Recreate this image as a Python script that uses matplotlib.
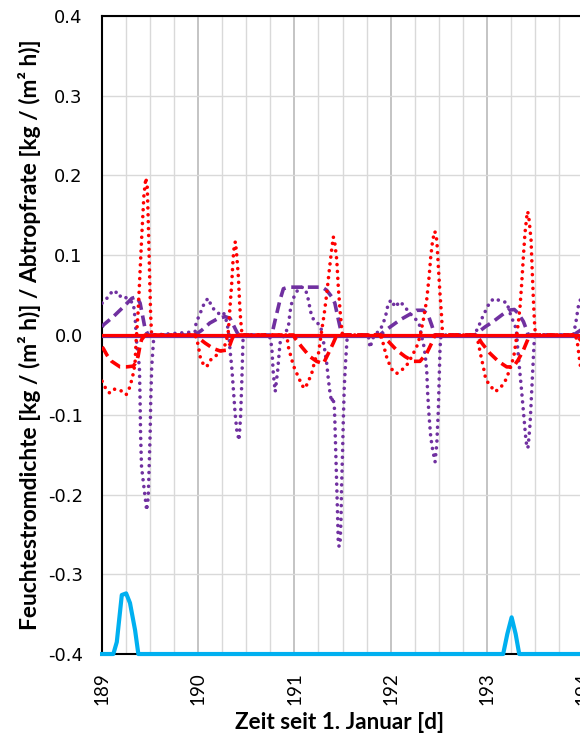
## Feuchtestromdichte / Abtropfrate, Tage 189-194
import matplotlib
matplotlib.use('Agg')
import matplotlib.pyplot as plt
from matplotlib.ticker import MultipleLocator, FormatStrFormatter

plt.rcParams['font.family'] = ['Lato', 'DejaVu Sans']
plt.rcParams['axes.unicode_minus'] = False

## Data
# red dotted
rd_t = [189.0, 189.013, 189.05, 189.083, 189.13, 189.187, 189.25, 189.29, 189.325, 189.343, 189.353,
        189.375, 189.395, 189.415, 189.435, 189.455, 189.47, 189.483, 189.495, 189.505, 189.515,
        189.967, 189.985, 190.0, 190.019, 190.05, 190.088, 190.12, 190.175, 190.244, 190.28, 190.296,
        190.313, 190.33, 190.348, 190.362, 190.375, 190.386, 190.40, 190.417, 190.43, 190.44, 190.455,
        190.92, 190.937, 190.972, 191.006, 191.04, 191.076, 191.11, 191.145, 191.18, 191.214, 191.25,
        191.284, 191.31, 191.336, 191.363, 191.387, 191.404, 191.42, 191.44, 191.456, 191.474, 191.49, 191.5,
        191.89, 191.917, 191.94, 191.966, 191.994, 192.03, 192.07, 192.115, 192.167, 192.22, 192.27,
        192.305, 192.34, 192.375, 192.40, 192.417, 192.437, 192.46, 192.48, 192.496, 192.513, 192.53, 192.54,
        192.895, 192.92, 192.94, 192.964, 192.99, 193.033, 193.085, 193.137, 193.19, 193.224, 193.26,
        193.286, 193.31, 193.327, 193.345, 193.363, 193.38, 193.397, 193.415, 193.425, 193.44, 193.46,
        193.473, 193.483, 193.494, 193.505,
        193.92, 193.94, 193.96, 193.98, 194.0]
rd_v = [-0.058, -0.061, -0.070, -0.073, -0.068, -0.069, -0.075, -0.065, -0.048, -0.035, -0.010,
        0.030, 0.080, 0.130, 0.175, 0.197, 0.185, 0.130, 0.070, 0.025, 0.0,
        0.0, -0.006, -0.013, -0.027, -0.036, -0.040, -0.032, -0.027, -0.019, -0.012, -0.005,
        0.005, 0.035, 0.065, 0.095, 0.113, 0.117, 0.100, 0.073, 0.040, 0.020, 0.0,
        0.0, -0.015, -0.031, -0.044, -0.052, -0.063, -0.067, -0.058, -0.048, -0.031, -0.023,
        0.006, 0.027, 0.052, 0.082, 0.107, 0.123, 0.115, 0.094, 0.060, 0.031, 0.010, 0.0,
        0.0, -0.008, -0.019, -0.031, -0.038, -0.047, -0.048, -0.044, -0.038, -0.027, -0.015,
        -0.002, 0.019, 0.044, 0.073, 0.098, 0.119, 0.130, 0.119, 0.086, 0.052, 0.023, 0.0,
        0.0, -0.015, -0.027, -0.040, -0.056, -0.063, -0.071, -0.067, -0.058, -0.048, -0.036,
        -0.023, -0.002, 0.015, 0.035, 0.065, 0.098, 0.128, 0.148, 0.155, 0.144, 0.119,
        0.077, 0.048, 0.019, 0.0,
        0.0, -0.008, -0.027, -0.045, -0.055]

# red dashed
rdd_t = [189.0, 189.013, 189.05, 189.10, 189.187, 189.25, 189.325, 189.36, 189.377, 189.395, 189.41, 189.447,
         189.967, 189.985, 190.07, 190.157, 190.227, 190.296, 190.33, 190.348, 190.37,
         190.99, 191.006, 191.076, 191.16, 191.23, 191.30, 191.353, 191.404, 191.44,
         191.90, 191.976, 192.063, 192.15, 192.236, 192.305, 192.375, 192.427, 192.46,
         192.895, 192.947, 193.033, 193.12, 193.207, 193.276, 193.327, 193.38, 193.425, 193.44,
         193.93, 194.0]
rdd_v = [-0.015, -0.017, -0.025, -0.033, -0.040, -0.040, -0.039, -0.033, -0.025, -0.013, -0.006, 0.0,
         0.0, -0.002, -0.010, -0.017, -0.020, -0.019, -0.012, -0.006, 0.0,
         0.0, -0.004, -0.015, -0.027, -0.033, -0.036, -0.023, -0.010, 0.0,
         0.0, -0.008, -0.019, -0.027, -0.033, -0.033, -0.023, -0.010, 0.0,
         0.0, -0.010, -0.023, -0.033, -0.040, -0.040, -0.031, -0.019, -0.006, 0.0,
         0.0, -0.010]

# purple dotted
pd_t = [189.0, 189.013, 189.05, 189.083, 189.135, 189.17, 189.22, 189.273, 189.325, 189.345,
        189.36, 189.388, 189.395, 189.40, 189.41, 189.43, 189.447, 189.464, 189.48, 189.49, 189.5,
        189.506, 189.516, 189.533, 189.54,
        189.967, 189.977, 190.019, 190.07, 190.105, 190.14, 190.21, 190.26, 190.30, 190.32, 190.33,
        190.348, 190.365, 190.383, 190.40, 190.424, 190.44, 190.452, 190.462, 190.467,
        190.74, 190.764, 190.78, 190.80, 190.826, 190.85, 190.885, 190.937, 190.954, 190.978, 191.006,
        191.04, 191.076, 191.11, 191.128, 191.145, 191.162, 191.18, 191.214, 191.266, 191.29, 191.31,
        191.336, 191.353, 191.37, 191.387, 191.40, 191.415, 191.42, 191.43, 191.44, 191.45, 191.456,
        191.465, 191.474, 191.484, 191.49, 191.50, 191.508, 191.518, 191.533, 191.545, 191.55,
        191.77, 191.786, 191.81, 191.83,
        191.89, 191.924, 191.95, 191.976, 192.01, 192.045, 192.098, 192.15, 192.20, 192.254, 192.30,
        192.322, 192.34, 192.357, 192.375, 192.385, 192.40, 192.417, 192.437, 192.462, 192.48, 192.496,
        192.506, 192.513, 192.52, 192.53,
        192.88, 192.895, 192.93, 192.964, 192.999, 193.033, 193.085, 193.148, 193.207, 193.235, 193.26,
        193.293, 193.31, 193.32, 193.335, 193.355, 193.373, 193.39, 193.404, 193.418, 193.43, 193.45,
        193.467, 193.483, 193.494, 193.50,
        193.90, 193.925, 193.95, 193.975, 194.0]
pd_v = [0.040, 0.042, 0.046, 0.052, 0.056, 0.048, 0.050, 0.044, 0.040, 0.019,
        -0.010, -0.040, -0.081, -0.123, -0.165, -0.186, -0.203, -0.220, -0.203, -0.165, -0.123,
        -0.081, -0.040, -0.010, 0.0,
        0.004, 0.015, 0.027, 0.042, 0.046, 0.035, 0.027, 0.029, 0.015, -0.002, -0.019,
        -0.040, -0.069, -0.098, -0.119, -0.132, -0.102, -0.061, -0.019, 0.0,
        0.0, -0.015, -0.048, -0.071, -0.044, -0.010, -0.002, 0.010, 0.029, 0.044, 0.050,
        0.058, 0.060, 0.058, 0.052, 0.044, 0.033, 0.023, 0.017, 0.0125, 0.002, -0.015,
        -0.036, -0.056, -0.073, -0.084, -0.078, -0.090, -0.107, -0.148, -0.190, -0.232, -0.263,
        -0.265, -0.263, -0.232, -0.190, -0.148, -0.107, -0.065, -0.031, -0.010, 0.0,
        -0.002, -0.016, -0.006, 0.0,
        0.006, 0.015, 0.025, 0.040, 0.044, 0.035, 0.042, 0.035, 0.027, 0.021, 0.0125,
        -0.002, -0.010, -0.023, -0.044, -0.073, -0.102, -0.128, -0.144, -0.159, -0.136, -0.094,
        -0.052, -0.019, -0.004, 0.0,
        0.0, 0.006, 0.015, 0.025, 0.033, 0.042, 0.046, 0.042, 0.041, 0.030, 0.021,
        0.0125, 0.002, -0.015, -0.036, -0.061, -0.086, -0.111, -0.128, -0.142, -0.140, -0.111,
        -0.069, -0.027, -0.004, 0.0,
        0.0, 0.015, 0.035, 0.045, 0.050]

# purple dashed
pdd_t = [189.0, 189.013, 189.117, 189.22, 189.31, 189.36, 189.395, 189.423, 189.447, 189.48,
         189.967, 190.036, 190.12, 190.21, 190.28, 190.33, 190.365, 190.40, 190.42,
         190.764, 190.80, 190.85, 190.885, 190.937, 191.0, 191.1, 191.2, 191.287, 191.336, 191.387,
         191.42, 191.45, 191.474, 191.498,
         191.89, 191.907, 191.994, 192.098, 192.20, 192.27, 192.34, 192.39, 192.427, 192.46,
         192.88, 192.895, 192.98, 193.068, 193.155, 193.224, 193.286, 193.327, 193.38, 193.415, 193.43,
         193.90, 194.0]
pdd_v = [0.010, 0.0125, 0.023, 0.035, 0.046, 0.048, 0.040, 0.023, 0.008, 0.0,
         0.0, 0.006, 0.015, 0.021, 0.023, 0.021, 0.0125, 0.004, 0.0,
         0.0, 0.019, 0.044, 0.058, 0.060, 0.060, 0.060, 0.060, 0.060, 0.056, 0.048,
         0.040, 0.023, 0.010, 0.0,
         0.0, 0.002, 0.010, 0.019, 0.026, 0.031, 0.031, 0.025, 0.0125, 0.0,
         0.0, 0.002, 0.010, 0.017, 0.025, 0.031, 0.032, 0.027, 0.017, 0.006, 0.0,
         0.0, 0.008]

# solid zero lines
red_solid_t = [189.0, 195.0]
red_solid_v = [0.0, 0.0]
purple_solid_t = [189.0, 195.0]
purple_solid_v = [-0.002, -0.002]

# Abtropfrate (light blue)
drip_t = [189.0, 189.117, 189.153, 189.205, 189.25, 189.29, 189.343, 189.377,
          193.17, 193.213, 193.258, 193.30, 193.337, 195.0]
drip_v = [-0.4, -0.4, -0.385, -0.326, -0.324, -0.336, -0.37, -0.4,
          -0.4, -0.375, -0.354, -0.375, -0.4, -0.4]

x_ticks = [189, 190, 191, 192, 193, 194]

## Plotting
red = '#FF0000'
purple = '#7030A0'
cyan = '#00B0F0'

fig = plt.figure(figsize=(5.8, 7.37), dpi=100)
ax = fig.add_axes([0.176, 0.1126, 0.995, 0.8657])

dot = (0, (0.01, 1.9))
dash = (0, (3.0, 1.6))

ax.plot(purple_solid_t, purple_solid_v, color=purple, lw=1.6, zorder=3)
ax.plot(pdd_t, pdd_v, color=purple, lw=2.6, linestyle=dash, zorder=4)
ax.plot(pd_t, pd_v, color=purple, lw=2.6, linestyle=dot, dash_capstyle='round', zorder=4)
ax.plot(rdd_t, rdd_v, color=red, lw=2.6, linestyle=dash, zorder=5)
ax.plot(rd_t, rd_v, color=red, lw=2.6, linestyle=dot, dash_capstyle='round', zorder=5)
ax.plot(red_solid_t, red_solid_v, color=red, lw=2.3, zorder=6)
ax.plot(drip_t, drip_v, color=cyan, lw=3.0, zorder=7, clip_on=False)

ax.set_xlim(189, 195)
ax.set_ylim(-0.4, 0.4)
ax.set_xticks(x_ticks)
ax.xaxis.set_minor_locator(MultipleLocator(0.25))
ax.yaxis.set_major_locator(MultipleLocator(0.1))
ax.yaxis.set_major_formatter(FormatStrFormatter('%.1f'))

ax.grid(True, which='minor', axis='x', color='#D9D9D9', lw=1.0)
ax.grid(True, which='major', axis='x', color='#BFBFBF', lw=1.3)
ax.grid(True, which='major', axis='y', color='#D9D9D9', lw=1.0)
ax.set_axisbelow(True)

for s in ['left', 'top', 'bottom']:
    ax.spines[s].set_color('black')
    ax.spines[s].set_linewidth(1.5)
ax.spines['right'].set_visible(False)

ax.tick_params(axis='both', which='both', length=0)
ax.tick_params(axis='y', pad=14, labelsize=13)
ax.tick_params(axis='x', pad=13, labelsize=13.5, labelrotation=90)
for lab in ax.get_yticklabels():
    lab.set_family('DejaVu Sans')

ax.set_xlabel('Zeit seit 1. Januar [d]', fontsize=16.2, fontweight='bold', va='center')
ax.xaxis.set_label_coords(0.412, -0.107)
ax.set_ylabel('Feuchtestromdichte [kg / (m² h)] / Abtropfrate [kg / (m² h)]',
              fontsize=16.4, fontweight='bold', va='center')
ax.yaxis.set_label_coords(-0.126, 0.5)

fig.savefig('out.png', dpi=100)
